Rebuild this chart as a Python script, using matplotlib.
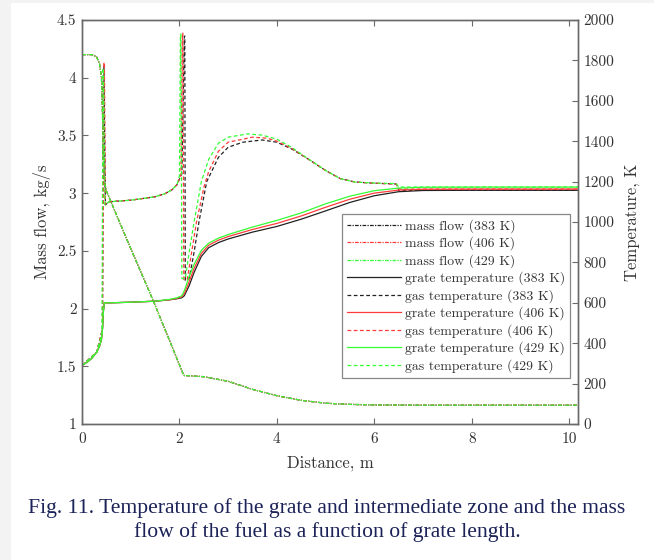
import matplotlib
matplotlib.use("Agg")
import matplotlib.pyplot as plt
from matplotlib.ticker import FuncFormatter, FixedLocator
from matplotlib.patches import Rectangle

plt.rcParams['axes.formatter.use_mathtext'] = True

# ---------------- data ----------------
# mass flow, kg/s (left axis)
x_mass = [0, 0.2, 0.3, 0.36, 0.40, 0.42, 0.44, 0.46, 0.5, 1.0, 1.5, 2.08, 2.1, 2.5, 3.0, 3.5, 4.0, 4.5, 5.0, 5.5, 6.0, 7.0, 8.0, 10.2]
mass_383 = [4.2, 4.2, 4.18, 4.12, 4.0, 3.7, 3.3, 3.10, 3.02, 2.52, 2.03, 1.43, 1.42, 1.41, 1.37, 1.30, 1.245, 1.205, 1.18, 1.17, 1.165, 1.163, 1.163, 1.163]
mass_406 = [4.2, 4.2, 4.18, 4.12, 4.0, 3.7, 3.3, 3.10, 3.02, 2.52, 2.03, 1.43, 1.42, 1.41, 1.37, 1.30, 1.245, 1.205, 1.18, 1.17, 1.165, 1.163, 1.163, 1.163]
mass_429 = [4.2, 4.2, 4.18, 4.12, 4.0, 3.7, 3.3, 3.10, 3.02, 2.52, 2.03, 1.43, 1.42, 1.41, 1.37, 1.30, 1.245, 1.205, 1.18, 1.17, 1.165, 1.163, 1.163, 1.163]

# grate temperature, K (right axis)
x_grate = [0, 0, 0.1, 0.2, 0.3, 0.36, 0.40, 0.42, 0.44, 0.46, 0.6, 1.0, 1.5, 1.8, 1.95, 2.05, 2.1, 2.2, 2.3, 2.45, 2.6, 2.8, 3.0, 3.5, 4.0, 4.5, 5.0, 5.5, 6.0, 6.5, 7.0, 8.0, 10.2]
grate_383 = [0, 290, 305, 325, 355, 385, 420, 470, 560, 600, 600, 603, 608, 615, 620, 625, 635, 685, 750, 830, 873, 898, 916, 950, 978, 1014, 1055, 1097, 1130, 1150, 1156, 1157, 1157]
grate_406 = [0, 290, 305, 325, 355, 385, 420, 470, 560, 600, 600, 603, 608, 615, 622, 630, 645, 705, 770, 845, 885, 910, 928, 963, 993, 1030, 1073, 1113, 1143, 1158, 1162, 1163, 1163]
grate_429 = [0, 290, 305, 325, 355, 385, 420, 470, 560, 600, 600, 603, 608, 617, 625, 635, 660, 730, 790, 860, 895, 920, 938, 975, 1008, 1045, 1090, 1128, 1155, 1168, 1172, 1173, 1173]

# gas temperature, K (right axis)
x_gas_383 = [0, 0.3, 0.42, 0.44, 0.45, 0.48, 0.55, 1.0, 1.5, 1.7, 1.85, 1.95, 2.05, 2.10, 2.11, 2.12, 2.2, 2.3, 2.4, 2.56, 2.8, 3.0, 3.3, 3.7, 4.0, 4.3, 4.6, 5.0, 5.3, 5.6, 6.0, 6.45, 6.5, 10.2]
gas_383 = [290, 355, 470, 1770, 1770, 1085, 1100, 1108, 1125, 1140, 1160, 1185, 1240, 1920, 1920, 710, 720, 850, 1000, 1200, 1320, 1370, 1395, 1406, 1395, 1362, 1318, 1255, 1215, 1198, 1192, 1188, 1157, 1157]
x_gas_406 = [0, 0.3, 0.42, 0.45, 0.46, 0.48, 0.55, 1.0, 1.5, 1.7, 1.85, 1.95, 2.03, 2.06, 2.07, 2.09, 2.16, 2.25, 2.35, 2.5, 2.6, 2.8, 3.0, 3.5, 3.8, 4.0, 4.3, 4.6, 5.0, 5.3, 5.6, 6.0, 6.45, 6.5, 10.2]
gas_406 = [290, 355, 470, 1790, 1790, 1088, 1100, 1108, 1125, 1140, 1160, 1185, 1230, 1935, 1935, 715, 715, 850, 1000, 1170, 1250, 1350, 1395, 1420, 1415, 1400, 1365, 1318, 1255, 1215, 1198, 1192, 1188, 1163, 1163]
x_gas_429 = [0, 0.3, 0.41, 0.43, 0.44, 0.47, 0.55, 1.0, 1.5, 1.7, 1.85, 1.95, 2.0, 2.02, 2.03, 2.05, 2.12, 2.2, 2.3, 2.45, 2.6, 2.8, 3.0, 3.4, 3.7, 4.0, 4.3, 4.6, 5.0, 5.3, 5.6, 6.0, 6.45, 6.5, 10.2]
gas_429 = [290, 355, 450, 1760, 1760, 1085, 1100, 1108, 1125, 1140, 1160, 1185, 1230, 1930, 1930, 720, 720, 850, 1000, 1200, 1310, 1390, 1420, 1436, 1430, 1410, 1370, 1320, 1255, 1215, 1198, 1193, 1190, 1173, 1173]

x_ticks = [0, 2, 4, 6, 8, 10]
left_ticks = [1, 1.5, 2, 2.5, 3, 3.5, 4, 4.5]
right_ticks = [0, 200, 400, 600, 800, 1000, 1200, 1400, 1600, 1800, 2000]

caption = ("Fig. 11. Temperature of the grate and intermediate zone and the mass\n"
           "flow of the fuel as a function of grate length.")

# ---------------- styling ----------------
C_K = '#222222'
C_R = '#ff3b3b'
C_G = '#33ff33'
FONT = 'cmr10'
SPINE = '#6a6a6a'

fig = plt.figure(figsize=(6.54, 5.60), dpi=100)
fig.patch.set_facecolor('white')
fig.patches.append(Rectangle((0, 0), 11/654, 1, transform=fig.transFigure,
                             facecolor='#f3f3f3', edgecolor='none', zorder=-10))
fig.patches.append(Rectangle((0, 1 - 3/560), 1, 3/560, transform=fig.transFigure,
                             facecolor='#f3f3f3', edgecolor='none', zorder=-10))

ax = fig.add_axes([82/654, 1 - 424/560, (578 - 82)/654, (424 - 20)/560])
ax2 = ax.twinx()
ax.set_zorder(ax2.get_zorder() + 1)
ax.patch.set_visible(False)

lw = 0.9
h = []
h += ax.plot(x_mass, mass_383, color=C_K, lw=lw, ls=(0, (3, 1, 1, 1)), label='mass flow (383 K)')
h += ax.plot(x_mass, mass_406, color=C_R, lw=lw, ls=(0, (3, 1, 1, 1)), label='mass flow (406 K)')
h += ax.plot(x_mass, mass_429, color=C_G, lw=lw, ls=(0, (3, 1, 1, 1)), label='mass flow (429 K)')

h += ax2.plot(x_grate, grate_383, color=C_K, lw=lw, ls='-', label='grate temperature (383 K)')
h += ax2.plot(x_gas_383, gas_383, color=C_K, lw=lw, ls=(0, (3, 2)), label='gas temperature (383 K)')
h += ax2.plot(x_grate, grate_406, color=C_R, lw=lw, ls='-', label='grate temperature (406 K)')
h += ax2.plot(x_gas_406, gas_406, color=C_R, lw=lw, ls=(0, (3, 2)), label='gas temperature (406 K)')
h += ax2.plot(x_grate, grate_429, color=C_G, lw=lw, ls='-', label='grate temperature (429 K)')
h += ax2.plot(x_gas_429, gas_429, color=C_G, lw=lw, ls=(0, (3, 2)), label='gas temperature (429 K)')

ax.set_xlim(0, 10.18)
ax.set_ylim(1, 4.5)
ax2.set_ylim(0, 2000)

fmt = FuncFormatter(lambda v, p: ('%g' % v))
ax.xaxis.set_major_locator(FixedLocator(x_ticks))
ax.yaxis.set_major_locator(FixedLocator(left_ticks))
ax2.yaxis.set_major_locator(FixedLocator(right_ticks))
for a in (ax, ax2):
    a.xaxis.set_major_formatter(fmt)
    a.yaxis.set_major_formatter(fmt)
    for s in a.spines.values():
        s.set_color(SPINE)
        s.set_linewidth(1.0)

ax.tick_params(axis='x', direction='in', top=True, length=4, width=0.8, color=SPINE, labelsize=11, pad=6)
ax.tick_params(axis='y', direction='in', length=4, width=0.8, color=SPINE, labelsize=11, pad=4)
ax2.tick_params(axis='y', direction='in', length=4, width=0.8, color=SPINE, labelsize=11, pad=4)
for lab in ax.get_xticklabels() + ax.get_yticklabels() + ax2.get_yticklabels():
    lab.set_fontfamily(FONT)
    lab.set_color('#333333')

ax.set_xlabel('Distance, m', fontfamily=FONT, fontsize=12, color='#333333', labelpad=7)
ax.set_ylabel('Mass flow, kg/s', fontfamily=FONT, fontsize=12, color='#333333', labelpad=4)
ax2.set_ylabel('Temperature, K', fontfamily=FONT, fontsize=12, color='#333333', labelpad=7)

leg = ax.legend(handles=h, loc='lower right', bbox_to_anchor=(0.984, 0.115),
                prop={'family': FONT, 'size': 9.9}, frameon=True, fancybox=False,
                handlelength=3.9, handletextpad=0.3, labelspacing=0.27,
                borderpad=0.35, borderaxespad=0.0)
leg.get_frame().set_edgecolor('#6a6a6a')
leg.get_frame().set_linewidth(0.9)
for t in leg.get_texts():
    t.set_color('#333333')

fig.text(0.5, 1 - 520/560, caption, ha='center', va='center', fontfamily='Liberation Serif',
         fontsize=15.6, color='#1c2358', linespacing=1.3)

fig.savefig('out.png', dpi=100)
